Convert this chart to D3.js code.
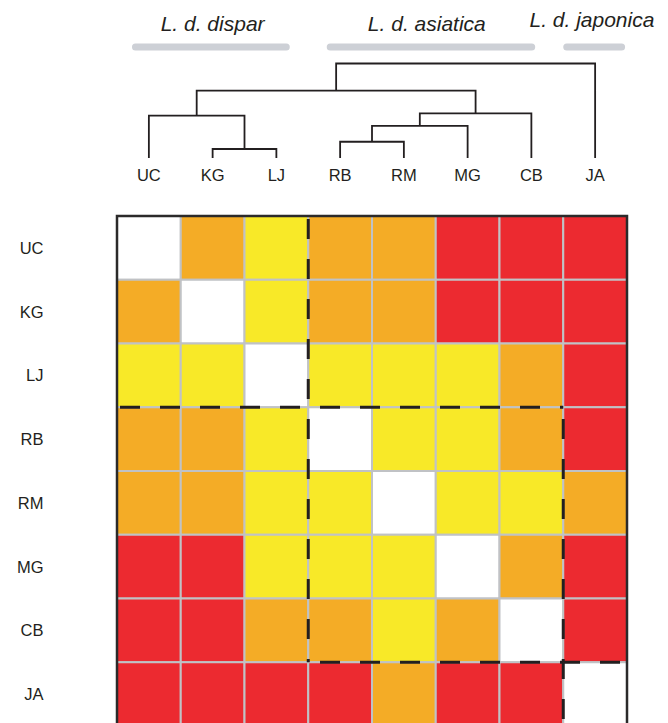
<!DOCTYPE html>
<html>
<head>
<meta charset="utf-8">
<script src="https://cdn.jsdelivr.net/npm/d3@7"></script>
<style>
  body { margin: 0; background: #fff; }
  text { font-family: "Liberation Sans", Arial, Helvetica, sans-serif; fill: #231f20; }
</style>
</head>
<body>
<div id="chart"></div>
<script>
// populations, in the order of the dendrogram leaves
const populations = ["UC", "KG", "LJ", "RB", "RM", "MG", "CB", "JA"];

// 0 = self, 1 = yellow, 2 = orange, 3 = red (one row per population)
const matrix = [
  [0, 2, 1, 2, 2, 3, 3, 3],
  [2, 0, 1, 2, 2, 3, 3, 3],
  [1, 1, 0, 1, 1, 1, 2, 3],
  [2, 2, 1, 0, 1, 1, 2, 3],
  [2, 2, 1, 1, 0, 1, 1, 2],
  [3, 3, 1, 1, 1, 0, 2, 3],
  [3, 3, 2, 2, 1, 2, 0, 3],
  [3, 3, 3, 3, 2, 3, 3, 0]
];
const levelColors = ["#ffffff", "#f8e928", "#f4ac26", "#ec2a30"];

// merges of the dendrogram: [child a, child b, height]; leaves are 0..7, new nodes get 8, 9, ...
const merges = [
  [1, 2, 0.095],
  [3, 4, 0.172],
  [9, 5, 0.339],
  [0, 8, 0.448],
  [10, 6, 0.473],
  [11, 12, 0.714],
  [13, 7, 1.0]
];

// subspecies and the leaf ranges they cover (in column units)
const subspecies = ["L. d. dispar", "L. d. asiatica", "L. d. japonica"];
const subspeciesBars = [[0.235, 2.71], [3.29, 6.56], [7.0, 7.97]];
const subspeciesLabelAt = [1.5, 4.86, 7.45];

// clusters drawn with a dashed box: [first index, last index + 1]
const clusters = [[0, 3], [3, 7], [7, 8]];

const width = 668, height = 723;
const grid = {left: 117, top: 216, size: 510};

const svg = d3.select("#chart")
  .append("svg")
  .attr("width", width)
  .attr("height", height);

// scales
const band = d3.scaleBand()
  .domain(populations)
  .range([0, grid.size]);
const cols = d3.scaleLinear()
  .domain([0, populations.length])
  .range([grid.left, grid.left + grid.size]);
const yTree = d3.scaleLinear()
  .domain([0, 1])
  .range([158, 63.5]);

// ---- subspecies labels and bars ----
svg.selectAll(".subBar")
  .data(subspeciesBars)
  .enter().append("line")
  .attr("x1", d => cols(d[0]) + 3.5)
  .attr("x2", d => cols(d[1]) - 3.5)
  .attr("y1", 47)
  .attr("y2", 47)
  .attr("stroke", "#cdd0d6")
  .attr("stroke-width", 7)
  .attr("stroke-linecap", "round");

svg.selectAll(".subLabel")
  .data(subspecies)
  .enter().append("text")
  .attr("x", (d, i) => cols(subspeciesLabelAt[i]))
  .attr("y", (d, i) => i === 2 ? 27 : 30.5)
  .attr("text-anchor", "middle")
  .attr("font-size", "21px")
  .attr("font-style", "italic")
  .text(d => d);

// ---- dendrogram ----
const nodeX = populations.map(p => grid.left + band(p) + band.bandwidth() / 2);
const nodeH = populations.map(() => 0);
const tree = svg.append("g");

merges.forEach(m => {
  const a = m[0], b = m[1], h = m[2];
  tree.append("path")
    .attr("d", `M${nodeX[a]},${yTree(nodeH[a])}V${yTree(h)}H${nodeX[b]}V${yTree(nodeH[b])}`)
    .attr("fill", "none")
    .attr("stroke", "#231f20")
    .attr("stroke-width", 1.8);
  nodeX.push((nodeX[a] + nodeX[b]) / 2);
  nodeH.push(h);
});

// leaf labels
svg.selectAll(".leaf")
  .data(populations)
  .enter().append("text")
  .attr("x", d => grid.left + band(d) + band.bandwidth() / 2)
  .attr("y", 181)
  .attr("text-anchor", "middle")
  .attr("font-size", "16.5px")
  .text(d => d);

// ---- matrix ----
const g = svg.append("g")
  .attr("transform", `translate(${grid.left},${grid.top})`);

const cells = [];
matrix.forEach((row, i) => {
  row.forEach((v, j) => cells.push({row: populations[i], col: populations[j], value: v}));
});

g.selectAll(".cell")
  .data(cells)
  .enter().append("rect")
  .attr("x", d => band(d.col))
  .attr("y", d => band(d.row))
  .attr("width", band.bandwidth())
  .attr("height", band.bandwidth())
  .attr("fill", d => levelColors[d.value])
  .attr("stroke", "#c0c2c5")
  .attr("stroke-width", 2);

// dashed cluster boxes, only the edges inside the frame
const edges = [];
clusters.forEach(c => {
  const a = c[0] * band.step(), b = c[1] * band.step();
  const sides = [
    [a, a, b, a], // top
    [b, a, b, b], // right
    [a, b, b, b], // bottom
    [a, a, a, b]  // left
  ];
  sides.forEach(s => {
    const onFrame = (s[0] === s[2] && (s[0] === 0 || s[0] === grid.size)) ||
                    (s[1] === s[3] && (s[1] === 0 || s[1] === grid.size));
    if (!onFrame) edges.push(s);
  });
});

g.selectAll(".clusterEdge")
  .data(edges)
  .enter().append("line")
  .attr("x1", d => d[0])
  .attr("y1", d => d[1])
  .attr("x2", d => d[2])
  .attr("y2", d => d[3])
  .attr("stroke", "#231f20")
  .attr("stroke-width", 3)
  .attr("stroke-dasharray", "20,20")
  .attr("stroke-dashoffset", d => {
    const start = d[1] === d[3] ? d[0] : d[1];
    return ((start - 3) % 40 + 40) % 40;
  });

// outer frame
g.append("rect")
  .attr("x", 0)
  .attr("y", 0)
  .attr("width", grid.size)
  .attr("height", grid.size)
  .attr("fill", "none")
  .attr("stroke", "#2b2a2a")
  .attr("stroke-width", 2.5);

// row labels
svg.selectAll(".rowLabel")
  .data(populations)
  .enter().append("text")
  .attr("x", 43.5)
  .attr("y", d => grid.top + band(d) + band.bandwidth() / 2 + 6)
  .attr("text-anchor", "end")
  .attr("font-size", "16.5px")
  .text(d => d);
</script>
</body>
</html>
